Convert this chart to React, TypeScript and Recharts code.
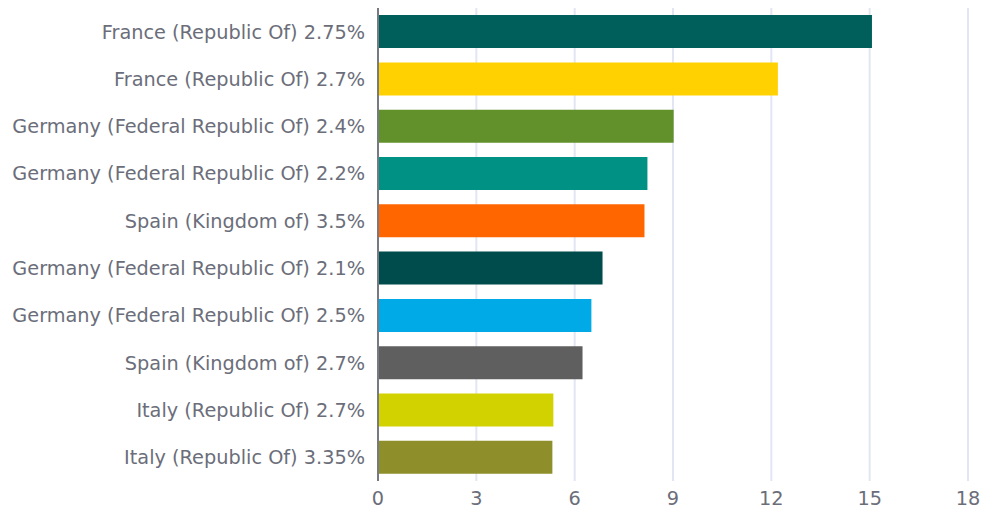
import { BarChart, Bar, XAxis, YAxis, CartesianGrid, Cell } from "recharts";

const bonds = [
  "France (Republic Of) 2.75%",
  "France (Republic Of) 2.7%",
  "Germany (Federal Republic Of) 2.4%",
  "Germany (Federal Republic Of) 2.2%",
  "Spain (Kingdom of) 3.5%",
  "Germany (Federal Republic Of) 2.1%",
  "Germany (Federal Republic Of) 2.5%",
  "Spain (Kingdom of) 2.7%",
  "Italy (Republic Of) 2.7%",
  "Italy (Republic Of) 3.35%",
];

const weights = [15.07, 12.2, 9.02, 8.22, 8.13, 6.85, 6.51, 6.24, 5.35, 5.32];

const barColors = [
  "#005f5a",
  "#ffd100",
  "#62912b",
  "#009185",
  "#ff6600",
  "#004b4b",
  "#00aae6",
  "#5f5f5f",
  "#d2d200",
  "#8e8e2a",
];

const xTicks = [0, 3, 6, 9, 12, 15, 18];

const data = bonds.map((name, i) => ({ name, value: weights[i] }));

const tickStyle = { fill: "#6b6e7a", fontSize: 19.3, fontFamily: "DejaVu Sans" };

export default function App() {
  return (
    <div>
      <style>{`body{margin:0} .recharts-cartesian-axis-tick-value{font-family:'DejaVu Sans',sans-serif;font-size:19.3px}`}</style>
      <BarChart
        width={983}
        height={508}
        data={data}
        layout="vertical"
        margin={{ top: 8, right: 15, bottom: 0, left: 0 }}
        barCategoryGap="15%"
      >
        <CartesianGrid horizontal={false} stroke="#e2e6f2" strokeWidth={2} />
        <XAxis
          type="number"
          domain={[0, 18]}
          ticks={xTicks}
          axisLine={false}
          tickLine={false}
          tickSize={6}
          tickMargin={4}
          height={27}
          tick={tickStyle}
          interval={0}
        />
        <YAxis
          type="category"
          dataKey="name"
          width={378}
          axisLine={{ stroke: "#777a80", strokeWidth: 2 }}
          tickLine={false}
          tickSize={6}
          tickMargin={7}
          tick={tickStyle}
          interval={0}
        />
        <Bar dataKey="value" isAnimationActive={false}>
          {data.map((d, i) => (
            <Cell key={d.name + i} fill={barColors[i]} />
          ))}
        </Bar>
      </BarChart>
    </div>
  );
}
